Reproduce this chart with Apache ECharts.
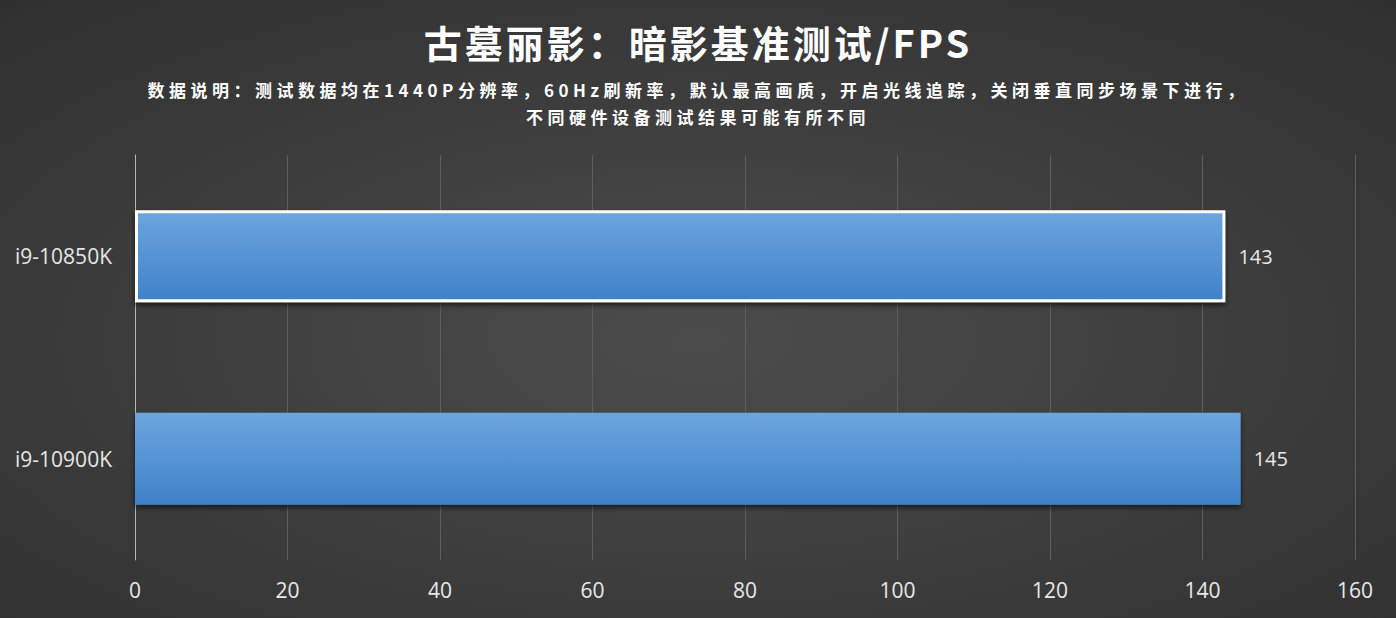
<!DOCTYPE html>
<html>
<head>
<meta charset="utf-8">
<script src="https://cdn.jsdelivr.net/npm/echarts@6/dist/echarts.min.js"></script>
<style>
html,body{margin:0;padding:0;background:#3a3a3a;}
#chart{width:1396px;height:618px;}
</style>
</head>
<body>
<div id="chart"></div>
<script>
const titleText = '古墓丽影：暗影基准测试/FPS';
const subtitleLines = ['数据说明：测试数据均在1440P分辨率，60Hz刷新率，默认最高画质，开启光线追踪，关闭垂直同步场景下进行，', '不同硬件设备测试结果可能有所不同'];
const categories = ['i9-10850K', 'i9-10900K'];
const fpsValues = [143, 145];
const axisMin = 0, axisMax = 160, axisStep = 20;

const chart = echarts.init(document.getElementById('chart'), null, {renderer: 'svg'});
const barGradient = new echarts.graphic.LinearGradient(0, 0, 0, 1, [
  {offset: 0, color: '#6ca5de'},
  {offset: 1, color: '#3f82c9'}
]);
const seriesData = fpsValues.map((v, i) => ({
  value: v,
  itemStyle: i === 0 ? {borderColor: '#ffffff', borderWidth: 3} : {}
}));

chart.setOption({
  backgroundColor: new echarts.graphic.RadialGradient(0.5, 0.55, 0.75, [
    {offset: 0, color: '#4c4c4c'},
    {offset: 1, color: '#2f2f2f'}
  ]),
  title: {
    text: titleText,
    subtext: subtitleLines.join('\n'),
    left: 'center',
    top: 17,
    itemGap: 16,
    textStyle: {color: '#ffffff', fontSize: 38, fontWeight: 'bold', fontFamily: 'Noto Sans CJK SC'},
    subtextStyle: {color: '#ffffff', fontSize: 17, fontWeight: 'bold', lineHeight: 27, fontFamily: 'Noto Sans CJK SC', align: 'center'}
  },
  grid: {left: 135, right: 41, top: 155, bottom: 58, containLabel: false},
  xAxis: {
    type: 'value',
    min: axisMin, max: axisMax, interval: axisStep,
    axisLine: {show: false},
    axisTick: {show: false},
    splitLine: {show: true, lineStyle: {color: '#5e5e5e', width: 1}},
    axisLabel: {color: '#e8e8e8', fontSize: 21, margin: 19, fontFamily: 'Open Sans'}
  },
  yAxis: {
    type: 'category',
    data: categories,
    inverse: true,
    axisLine: {show: true, lineStyle: {color: '#b5b5b5', width: 1}},
    axisTick: {show: false},
    axisLabel: {color: '#e6e6e6', fontSize: 21, margin: 23, fontFamily: 'Open Sans'}
  },
  series: [{
    type: 'bar',
    data: seriesData,
    barWidth: 92,
    itemStyle: {color: barGradient, shadowColor: 'rgba(0,0,0,0.6)', shadowBlur: 5, shadowOffsetY: 3},
    label: {show: true, position: 'right', distance: 13, color: '#e8e8e8', fontSize: 20, fontFamily: 'Open Sans'},
    animation: false
  }],
  animation: false
});

function applySpacing() {
  const texts = document.querySelectorAll('#chart svg text');
  texts.forEach(t => {
    const s = t.textContent;
    if (s === titleText) {
      t.setAttribute('letter-spacing', '3');
      t.style.letterSpacing = '3px';
    } else if (subtitleLines.indexOf(s) >= 0) {
      t.setAttribute('letter-spacing', '4.5');
      t.style.letterSpacing = '4.5px';
    }
  });
}
chart.on('finished', applySpacing);
setTimeout(applySpacing, 50);
requestAnimationFrame(() => requestAnimationFrame(applySpacing));
</script>
</body>
</html>
